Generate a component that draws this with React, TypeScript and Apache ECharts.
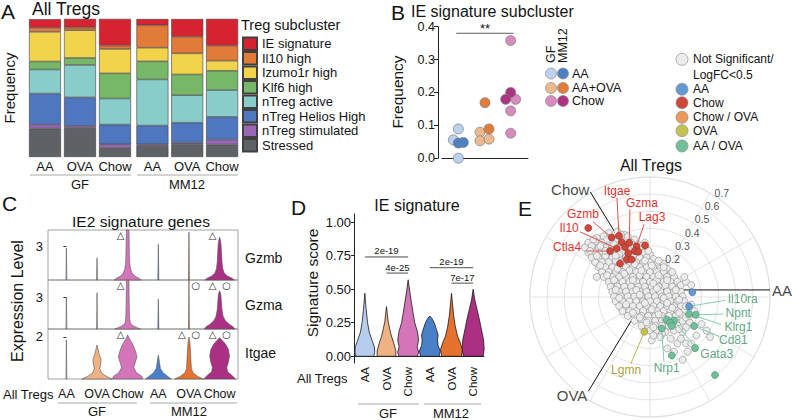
import React, { useEffect, useRef } from "react";
import * as echarts from "echarts";

const FONT = '"Liberation Sans", Arial, Helvetica, sans-serif';
const SYMBOL_FONT = '"DejaVu Sans", sans-serif';
const INK = "#141414";

/* ---------------- A: subcluster composition ---------------- */
const aConditions = ["AA", "OVA", "Chow"];
const aSubclusters = ["IE signature", "Il10 high", "Izumo1r high", "Klf6 high", "nTreg active", "nTreg Helios High", "nTreg stimulated", "Stressed"];
const aColors = ["#d7232f", "#e27a38", "#f2d34c", "#76b868", "#89cdcb", "#4f77bf", "#9a67b5", "#5e6165"];
// samples: GF AA, GF OVA, GF Chow, MM12 AA, MM12 OVA, MM12 Chow
const ieSignature = [0.063, 0.063, 0.194, 0.046, 0.128, 0.194];
const il10High = [0.029, 0.019, 0.024, 0.162, 0.121, 0.109];
const izumo1rHigh = [0.215, 0.201, 0.177, 0.099, 0.153, 0.073];
const klf6High = [0.058, 0.051, 0.182, 0.131, 0.15, 0.14];
const nTregActive = [0.174, 0.235, 0.189, 0.334, 0.199, 0.194];
const nTregHeliosHigh = [0.225, 0.206, 0.143, 0.136, 0.145, 0.165];
const nTregStimulated = [0.029, 0.015, 0.027, 0.012, 0.012, 0.036];
const stressed = [0.206, 0.211, 0.065, 0.08, 0.092, 0.09];
const aFractions = [ieSignature, il10High, izumo1rHigh, klf6High, nTregActive, nTregHeliosHigh, nTregStimulated, stressed];

/* ---------------- B: IE signature subcluster frequency ---------------- */
const bConditions = ["AA", "AA+OVA", "Chow"];
const bGfAA = [0.089, 0.056, 0.0];
const bMm12AA = [0.046, 0.048];
const bGfOVA = [0.079, 0.053, 0.058];
const bMm12OVA = [0.169, 0.089];
const bGfChow = [0.358, 0.179, 0.144, 0.076];
const bMm12Chow = [0.2, 0.179];
const bSignificance = [{ from: 0, to: 2, y: 0.38, label: "**" }];
// horizontal jitter of the dots (px)
const bJitter = { gfAA: [2, -3, 2], mmAA: [2, 7], gfOVA: [-5, -5, 4], mmOVA: [0, 4], gfChow: [-3, 2, -3, -3], mmChow: [-3, -8] };
const bLight = ["#bcd1ef", "#ecb98f", "#d98bc0"];
const bDark = ["#4f80c4", "#e27c3d", "#ad3383"];

/* ---------------- shared condition colours ---------------- */
const conditionColors = ["#b7cdee", "#efb282", "#d375b8", "#4a7fc9", "#e5722e", "#ab2f83"];

/* ---------------- C: IE2 signature genes (violin profiles: [expression, relative density]) ---------------- */
const cSamples = ["AA", "OVA", "Chow", "AA", "OVA", "Chow"];
const cGenes = ["Gzmb", "Gzma", "Itgae"];
const cAxisMax = [4.5, 4.6, 2.38];
const cAxisTick = [3, 3, 2];
const cGzmb = [
  [[0, 0.03], [1, 0.02], [2.9, 0]],
  [[0, 0.03], [1, 0.02], [2.0, 0]],
  [[0, 0.85], [0.15, 0.7], [0.35, 0.45], [0.6, 0.28], [1.0, 0.18], [1.5, 0.13], [2.2, 0.11], [3, 0.1], [3.8, 0.09], [4.5, 0.08]],
  [[0, 0.03], [1, 0.02], [3.2, 0]],
  [[0, 0.03], [1, 0.02], [4.3, 0]],
  [[0, 0.92], [0.15, 0.78], [0.35, 0.5], [0.6, 0.3], [1.0, 0.2], [1.6, 0.15], [2.4, 0.12], [3.2, 0.09], [3.6, 0.05], [3.85, 0]],
];
const cGzma = [
  [[0, 0.03], [1, 0.02], [3.0, 0]],
  [[0, 0.03], [1, 0.02], [3.4, 0]],
  [[0, 0.8], [0.15, 0.55], [0.35, 0.28], [0.6, 0.16], [1.0, 0.12], [2, 0.1], [3, 0.09], [4.6, 0.08]],
  [[0, 0.03], [1, 0.02], [2.8, 0]],
  [[0, 0.03], [1, 0.02], [4.6, 0]],
  [[0, 0.95], [0.2, 0.85], [0.45, 0.6], [0.8, 0.35], [1.2, 0.22], [1.8, 0.15], [2.6, 0.11], [3.3, 0.07], [3.6, 0]],
];
const cItgae = [
  [[0, 0.03], [0.6, 0.02], [1.86, 0]],
  [[0, 0.95], [0.12, 0.6], [0.28, 0.28], [0.5, 0.17], [0.75, 0.24], [0.95, 0.25], [1.15, 0.15], [1.4, 0.07], [1.62, 0]],
  [[0, 0.95], [0.12, 0.9], [0.3, 0.55], [0.55, 0.38], [0.8, 0.48], [1.05, 0.58], [1.3, 0.5], [1.55, 0.38], [1.8, 0.2], [2.0, 0.05], [2.1, 0]],
  [[0, 0.8], [0.12, 0.6], [0.3, 0.3], [0.5, 0.13], [0.8, 0.07], [1.14, 0]],
  [[0, 0.9], [0.12, 0.55], [0.3, 0.25], [0.5, 0.15], [0.9, 0.12], [1.3, 0.1], [1.7, 0.06], [2.0, 0]],
  [[0, 1.0], [0.15, 0.8], [0.35, 0.5], [0.55, 0.45], [0.8, 0.55], [1.1, 0.62], [1.4, 0.55], [1.65, 0.38], [1.85, 0.15], [1.97, 0]],
];
const cProfiles = [cGzmb, cGzma, cItgae];
// [sample index, triangle, circle]
const cMarkers = [
  [[2, 1, 0], [5, 1, 0]],
  [[2, 1, 0], [4, 0, 1], [5, 1, 1]],
  [[2, 1, 0], [4, 1, 1], [5, 1, 1]],
];

/* ---------------- D: IE signature score ---------------- */
const dSamples = ["GF AA", "GF OVA", "GF Chow", "MM12 AA", "MM12 OVA", "MM12 Chow"];
const dTicks = [0, 0.25, 0.5, 0.75, 1];
const dProfiles = [
  [[0, 0.82], [0.03, 0.9], [0.07, 0.87], [0.12, 0.65], [0.18, 0.4], [0.25, 0.25], [0.35, 0.12], [0.42, 0.05], [0.47, 0]],
  [[0, 0.85], [0.04, 0.85], [0.1, 0.65], [0.15, 0.45], [0.2, 0.3], [0.26, 0.15], [0.32, 0.07], [0.37, 0]],
  [[0, 0.85], [0.03, 0.95], [0.07, 0.82], [0.12, 0.95], [0.18, 0.85], [0.25, 0.6], [0.32, 0.45], [0.4, 0.3], [0.48, 0.15], [0.57, 0]],
  [[0, 0.85], [0.04, 0.95], [0.08, 0.75], [0.12, 0.7], [0.16, 0.75], [0.2, 0.6], [0.25, 0.4], [0.28, 0.2], [0.3, 0]],
  [[0, 0.9], [0.05, 1.0], [0.1, 0.8], [0.15, 0.55], [0.22, 0.35], [0.3, 0.2], [0.4, 0.08], [0.47, 0]],
  [[0, 0.9], [0.05, 1.0], [0.12, 0.95], [0.2, 0.75], [0.28, 0.55], [0.35, 0.35], [0.42, 0.15], [0.5, 0]],
];
const dBrackets = [
  { from: 0, to: 2, y: 0.74, label: "2e-19" },
  { from: 1, to: 2, y: 0.62, label: "4e-25" },
  { from: 3, to: 5, y: 0.66, label: "2e-19" },
  { from: 4, to: 5, y: 0.545, label: "7e-17" },
];

/* ---------------- E: triwise plot (coordinates in hundredths of the radial unit) ---------------- */
const eRadialTicks = [0.2, 0.3, 0.4, 0.5, 0.6, 0.7];
const eAxes = [
  { name: "AA", angle: 0, length: 0.7 },
  { name: "Chow", angle: 120, length: 0.695 },
  { name: "OVA", angle: 240, length: 0.72 },
];
const eCloudUpper = [
  [-24, 35], [-19, 36], [-15, 34],
  [-31, 32], [-27, 33], [-22, 32], [-18, 32], [-13, 33], [-9, 31],
  [-36, 29], [-32, 30], [-28, 29], [-24, 29], [-20, 30], [-16, 29], [-11, 29], [-7, 28], [-3, 29],
  [-38, 26], [-34, 27], [-30, 26], [-26, 26], [-22, 27], [-18, 26], [-14, 26], [-10, 26], [-6, 26], [-2, 25],
  [-36, 23], [-32, 23], [-28, 24], [-24, 23], [-20, 23], [-16, 23], [-12, 24], [-8, 23], [-4, 23], [0, 22],
  [-34, 20], [-30, 20], [-26, 21], [-22, 20], [-18, 20], [-14, 20], [-10, 21], [-6, 20], [-2, 20], [2, 19],
  [-32, 17], [-28, 17], [-24, 17], [-20, 18], [-16, 17], [-12, 17], [-8, 17], [-4, 17], [0, 17], [4, 16], [8, 16],
];
const eCloudMiddle = [
  [-30, 14], [-26, 14], [-22, 14], [-18, 15], [-14, 14], [-10, 14], [-6, 14], [-2, 14], [2, 14], [6, 13], [10, 13],
  [-28, 11], [-24, 11], [-20, 11], [-16, 11], [-12, 12], [-8, 11], [-4, 11], [0, 11], [4, 11], [8, 11], [12, 10],
  [-27, 8], [-22, 8], [-18, 8], [-14, 8], [-10, 8], [-6, 9], [-2, 8], [2, 8], [6, 8], [10, 8], [14, 8],
  [-24, 5], [-20, 5], [-16, 5], [-12, 5], [-8, 5], [-4, 5], [0, 5], [4, 6], [8, 5], [12, 5], [16, 5],
  [-23, 2], [-19, 2], [-15, 2], [-11, 2], [-7, 2], [-3, 2], [1, 2], [5, 2], [9, 3], [13, 2], [17, 2],
  [-22, -1], [-18, -1], [-14, -1], [-10, -1], [-6, -1], [-2, -1], [2, -1], [6, -1], [10, -1], [14, -1], [18, -1],
  [-21, -4], [-17, -4], [-13, -4], [-9, -4], [-5, -4], [-1, -4], [3, -4], [7, -4], [11, -4], [15, -4], [19, -4],
];
const eCloudLower = [
  [-20, -7], [-16, -7], [-12, -7], [-8, -7], [-4, -7], [0, -7], [4, -7], [8, -7], [12, -7], [16, -7], [20, -7],
  [-18, -10], [-14, -10], [-10, -10], [-6, -10], [-2, -10], [2, -10], [6, -10], [10, -10], [14, -10], [18, -10],
  [-16, -13], [-12, -13], [-8, -13], [-4, -13], [0, -13], [4, -13], [8, -13], [12, -13], [16, -13], [20, -13],
  [-13, -16], [-9, -16], [-5, -16], [-1, -16], [3, -16], [7, -16], [11, -16], [15, -16], [19, -16],
  [-9, -19], [-5, -19], [-1, -19], [3, -19], [7, -19], [11, -19], [15, -19], [19, -19], [23, -20],
  [-5, -22], [-1, -22], [3, -22], [7, -22], [11, -22], [16, -22], [21, -23],
  [0, -25], [4, -25], [9, -26], [14, -25], [19, -26],
];
const eCloudFill = [
  [-33, 31], [-25, 31], [-17, 34], [-29, 27], [-21, 28], [-13, 27], [-5, 27], [-35, 24], [-26, 24], [-18, 22],
  [-9, 24], [-1, 24], [-31, 21], [-20, 21], [-12, 19], [-3, 18], [5, 18], [-29, 15], [-19, 13], [-9, 16],
  [1, 15], [8, 14], [-25, 9], [-15, 10], [-5, 12], [5, 9], [13, 11], [-21, 6], [-10, 6], [2, 4],
  [10, 6], [18, 3], [-20, 0], [-8, 0], [4, 1], [15, 0], [-18, -5], [-6, -3], [8, -5], [17, -6],
  [-14, -9], [-3, -8], [10, -8], [21, -10], [-10, -14], [1, -12], [13, -11], [-6, -17], [5, -15], [17, -14],
  [-2, -20], [9, -18], [21, -17], [2, -23], [13, -21], [7, -27], [17, -24], [23, -16],
];
const eCloudOutliers = [
  [-31, 8], [21, 5], [20, 8], [24, 3], [30, -21], [33, -25], [35, -29], [16, -33], [21, -33], [24, -33],
  [22, -38], [14, -38], [19, -43], [10, -36], [18, -30], [1, -31], [2, -28], [27, -28], [6, -29], [12, -30], [24, -9], [26, -13],
];
const eChow = [
  [-22.4, 32.3], [-18.1, 33.3], [-16.5, 29.3], [-19.4, 25.5], [-23.3, 23.9], [-14.6, 26.4], [-7.8, 26.8], [-2.9, 27.4],
  [-8.8, 23.9], [-6.8, 23.5], [-12.7, 22.6], [-13.6, 18.7], [-17.5, 16.3], [-10.7, 18.7], [-12.1, 29.0], [-36.0, 38.1],
];
const eAA = [[24.7, -1.4], [22.8, -10.1]];
const eAAOVA = [
  [22.8, -14.8], [26.7, -15.3], [9.7, -18.3], [14.0, -18.8], [11.7, -20.2], [12.7, -22.2],
  [6.8, -23.7], [25.7, -22.2], [26.3, -35.8], [12.7, -40.3], [37.9, -52.3],
];
const eOVA = [[-3.3, -25.7]];
const eGeneLabels = [
  { gene: "Gzmb", set: "Chow", index: 0 },
  { gene: "Itgae", set: "Chow", index: 1 },
  { gene: "Il10", set: "Chow", index: 3 },
  { gene: "Ctla4", set: "Chow", index: 4 },
  { gene: "Lag3", set: "Chow", index: 6 },
  { gene: "Gzma", set: "Chow", index: 14 },
  { gene: "Il10ra", set: "AA", index: 1 },
  { gene: "Klrg1", set: "AA / OVA", index: 0 },
  { gene: "Npnt", set: "AA / OVA", index: 1 },
  { gene: "Gata3", set: "AA / OVA", index: 3 },
  { gene: "Nrp1", set: "AA / OVA", index: 6 },
  { gene: "Cd81", set: "AA / OVA", index: 7 },
  { gene: "Lgmn", set: "OVA", index: 0 },
];
// label layout (px): [text dx, text dy, leader start dx, leader start dy]
const eLabelLayout: any = {
  Gzmb: [-28.6, -23.6, -18.6, -15.6],
  Itgae: [-2, -45, -2, -38],
  Il10: [-47.7, -20.3, -36.7, -16.6],
  Ctla4: [-43, -4, -23.3, 0],
  Lag3: [15.4, -29, 7.4, -22],
  Gzma: [12.7, -39.3, 0.7, -33.3],
  Il10ra: [53.7, -7.5, 36, -6],
  Klrg1: [49.3, 12.8, 32, 10.5],
  Npnt: [42.5, -1.5, 27.5, -0.8],
  Gata3: [42.7, 33.5, 24.3, 30.8],
  Nrp1: [5, 39.7, 2.3, 33.4],
  Cd81: [39.3, 14.2, 25.3, 10.5],
  Lgmn: [-18.3, 38.3, -13.6, 32.3],
};
const eSets: any = { Chow: eChow, AA: eAA, "AA / OVA": eAAOVA, OVA: eOVA };
const eSetStyle: any = {
  "Not Significant/": { fill: "#ececec", stroke: "#8c8c8c" },
  AA: { fill: "#6399d2", stroke: "#3f6a99", text: "#5fa886", line: "#86cdae" },
  Chow: { fill: "#cf4739", stroke: "#8e3128", text: "#e3342f", line: "#e4514b" },
  "Chow / OVA": { fill: "#eb9a5e", stroke: "#a86a3c" },
  OVA: { fill: "#c4c250", stroke: "#8a8a30", text: "#a9a33a", line: "#b8b449" },
  "AA / OVA": { fill: "#6fbf98", stroke: "#4d8a6e", text: "#5fa886", line: "#86cdae" },
};
const eLegend = ["Not Significant/", "AA", "Chow", "Chow / OVA", "OVA", "AA / OVA"];

/* ---------------- helpers ---------------- */
const txt = (x: number, y: number, text: string, size: number, o: any = {}) => ({
  type: "text", x, y, rotation: o.rot || 0, z: 100, silent: true,
  style: { text, fontSize: size, fontFamily: o.family || FONT, fill: o.fill || INK, align: o.align || "left", verticalAlign: "middle" },
});
const hline = (x1: number, x2: number, y: number) => ({
  type: "line", z: 100, silent: true, shape: { x1, y1: y, x2, y2: y }, style: { stroke: "#a8a8a8", lineWidth: 1 },
});
const dot = (cx: number, cy: number, fill: string, r = 5.5) => ({
  type: "circle", z: 100, silent: true, shape: { cx, cy, r }, style: { fill, stroke: "#8c8c8c", lineWidth: 0.7 },
});
const hundredths = (p: number[]) => [p[0] / 100, p[1] / 100];

function violinRender(profiles: any[], maxHalf: number, stroke: string, lw: number) {
  return (params: any, api: any) => {
    const cat = api.value(0);
    const prof = profiles[cat];
    const right: number[][] = [];
    const left: number[][] = [];
    prof.forEach((pt: number[]) => {
      const c = api.coord([cat, pt[0]]);
      right.push([c[0] + pt[1] * maxHalf, c[1]]);
      left.push([c[0] - pt[1] * maxHalf, c[1]]);
    });
    return {
      type: "polygon",
      shape: { points: right.concat(left.reverse()) },
      style: { fill: conditionColors[cat], stroke, lineWidth: lw },
    };
  };
}

function buildOption() {
  const cGrid = { left: 48, width: 190, show: true, borderColor: "#8c8c8c", borderWidth: 0.8, backgroundColor: "transparent" };
  const grid = [
    { left: 27.5, top: 19, width: 105, height: 138 },
    { left: 135, top: 19, width: 104.5, height: 138 },
    { left: 442, top: 26.7, width: 86, height: 131.5 },
    { ...cGrid, top: 230, height: 50 },
    { ...cGrid, top: 280, height: 49 },
    { ...cGrid, top: 329, height: 50 },
    { left: 354, top: 214, width: 130, height: 149 },
    { left: 512.86, top: 159.86, width: 274.29, height: 274.29 },
  ];
  const aX = (g: number) => ({
    gridIndex: g, type: "category", data: aConditions,
    axisLine: { show: false }, axisTick: { show: false },
    axisLabel: { interval: 0, fontSize: 13, color: INK, margin: 3, fontFamily: FONT },
  });
  const xAxis: any[] = [
    aX(0), aX(1),
    { gridIndex: 2, type: "category", data: bConditions, axisLine: { lineStyle: { color: "#222", width: 1 } }, axisTick: { show: false }, axisLabel: { show: false } },
    { gridIndex: 3, type: "value", min: -0.6, max: 5.6, show: false },
    { gridIndex: 4, type: "value", min: -0.6, max: 5.6, show: false },
    {
      gridIndex: 5, type: "value", min: -0.6, max: 5.6,
      axisLine: { show: false }, axisTick: { show: false }, splitLine: { show: false },
      axisLabel: { customValues: [0, 1, 2, 3, 4, 5], formatter: (v: number) => cSamples[Math.round(v)], fontSize: 12.5, color: INK, margin: 8, fontFamily: FONT },
    },
    {
      gridIndex: 6, type: "category", data: dSamples,
      axisLine: { lineStyle: { color: "#222", width: 1 } },
      axisTick: { alignWithLabel: true, length: 3, lineStyle: { color: "#222" } },
      axisLabel: { interval: 0, rotate: 90, fontSize: 11.5, color: INK, margin: 4, fontFamily: FONT, formatter: (v: string) => v.split(" ")[1] },
    },
    { gridIndex: 7, type: "value", min: -0.8, max: 0.8, show: false },
  ];
  const cY = (r: number) => ({
    gridIndex: 3 + r, type: "value", min: 0, max: cAxisMax[r],
    axisLine: { show: false },
    axisTick: { show: true, customValues: [cAxisTick[r]], length: 3, lineStyle: { color: "#333" } },
    axisLabel: { customValues: [cAxisTick[r]], fontSize: 13, color: INK, margin: 5, fontFamily: FONT },
    splitLine: { show: false },
  });
  const yAxis: any[] = [
    { gridIndex: 0, type: "value", min: 0, max: 1, show: false },
    { gridIndex: 1, type: "value", min: 0, max: 1, show: false },
    {
      gridIndex: 2, type: "value", min: 0, max: 0.4, interval: 0.1, offset: 4,
      axisLine: { show: true, lineStyle: { color: "#222" } },
      axisTick: { show: true, length: 4, lineStyle: { color: "#222" } },
      axisLabel: { fontSize: 12.5, color: INK, margin: 3, fontFamily: FONT, formatter: (v: number) => v.toFixed(1) },
      splitLine: { show: false },
    },
    cY(0), cY(1), cY(2),
    {
      gridIndex: 6, type: "value", min: -0.05, max: 1.06,
      axisLine: { show: true, lineStyle: { color: "#222" } },
      axisTick: { show: true, customValues: dTicks, length: 3, lineStyle: { color: "#222" } },
      axisLabel: { customValues: dTicks, fontSize: 13, color: INK, margin: 3, fontFamily: FONT, formatter: (v: number) => v.toFixed(2) },
      splitLine: { show: false },
    },
    { gridIndex: 7, type: "value", min: -0.8, max: 0.8, show: false },
  ];

  const series: any[] = [];

  // A: stacked bars (bottom-up: Stressed first)
  [0, 1].forEach((g) => {
    for (let k = aSubclusters.length - 1; k >= 0; k--) {
      series.push({
        type: "bar", name: aSubclusters[k], xAxisIndex: g, yAxisIndex: g, stack: "A" + g, barWidth: 32,
        data: aFractions[k].slice(g * 3, g * 3 + 3),
        itemStyle: { color: aColors[k], borderColor: "#404040", borderWidth: 0.6 },
        silent: true,
      });
    }
  });

  // B: dots
  const bGroups = [
    { cond: 0, vals: bGfAA, jit: bJitter.gfAA, color: bLight[0] },
    { cond: 0, vals: bMm12AA, jit: bJitter.mmAA, color: bDark[0] },
    { cond: 1, vals: bGfOVA, jit: bJitter.gfOVA, color: bLight[1] },
    { cond: 1, vals: bMm12OVA, jit: bJitter.mmOVA, color: bDark[1] },
    { cond: 2, vals: bGfChow, jit: bJitter.gfChow, color: bLight[2] },
    { cond: 2, vals: bMm12Chow, jit: bJitter.mmChow, color: bDark[2] },
  ];
  bGroups.forEach((b, i) => {
    series.push({
      type: "scatter", name: "B" + i, xAxisIndex: 2, yAxisIndex: 2, symbolSize: 10, silent: true,
      itemStyle: { color: b.color, borderColor: "#7a7a7a", borderWidth: 0.7, opacity: 1 },
      data: b.vals.map((v, j) => ({ value: [b.cond, v], symbolOffset: [b.jit[j], 0] })),
    });
  });
  series.push({
    type: "custom", xAxisIndex: 2, yAxisIndex: 2, silent: true,
    data: bSignificance.map((b) => [b.from, b.y]),
    encode: { x: 0, y: 1 },
    renderItem: (params: any, api: any) => {
      const b = bSignificance[params.dataIndex];
      const p1 = api.coord([b.from, b.y]);
      const p2 = api.coord([b.to, b.y]);
      return {
        type: "group", children: [
          { type: "line", shape: { x1: p1[0], y1: p1[1], x2: p2[0], y2: p2[1] }, style: { stroke: "#333", lineWidth: 0.8 } },
          { type: "text", x: (p1[0] + p2[0]) / 2, y: p1[1] - 5, style: { text: b.label, fontSize: 13, fontFamily: FONT, fill: INK, align: "center", verticalAlign: "middle" } },
        ],
      };
    },
  });

  // C: violins + markers
  [0, 1, 2].forEach((r) => {
    series.push({
      type: "custom", xAxisIndex: 3 + r, yAxisIndex: 3 + r, silent: true,
      data: cSamples.map((_, i) => [i, 0]), encode: { x: 0, y: 1 },
      renderItem: violinRender(cProfiles[r], 16, "#555", 0.6),
    });
    series.push({
      type: "custom", xAxisIndex: 3 + r, yAxisIndex: 3 + r, silent: true,
      data: cMarkers[r].map((m) => [m[0], cAxisMax[r]]), encode: { x: 0, y: 1 },
      renderItem: (params: any, api: any) => {
        const m = cMarkers[r][params.dataIndex];
        const p = api.coord([m[0], cAxisMax[r]]);
        const children: any[] = [];
        const st = (t: string) => ({ text: t, fontSize: 10, fontFamily: SYMBOL_FONT, fill: "#333", align: "center", verticalAlign: "middle" });
        if (m[1]) children.push({ type: "text", x: p[0] - 7, y: p[1] + 5.5, style: st("△") });
        if (m[2]) children.push({ type: "text", x: p[0] + 7, y: p[1] + 5.5, style: st("○") });
        return { type: "group", children };
      },
    });
  });

  // D: violins + brackets
  series.push({
    type: "custom", xAxisIndex: 6, yAxisIndex: 6, silent: true,
    data: dSamples.map((_, i) => [i, 0]), encode: { x: 0, y: 1 },
    renderItem: violinRender(dProfiles, 11, "#1a1a1a", 0.8),
  });
  series.push({
    type: "custom", xAxisIndex: 6, yAxisIndex: 6, silent: true,
    data: dBrackets.map((b) => [b.from, b.y]), encode: { x: 0, y: 1 },
    renderItem: (params: any, api: any) => {
      const b = dBrackets[params.dataIndex];
      const p1 = api.coord([b.from, b.y]);
      const p2 = api.coord([b.to, b.y]);
      return {
        type: "group", children: [
          { type: "line", shape: { x1: p1[0], y1: p1[1], x2: p2[0], y2: p2[1] }, style: { stroke: "#222", lineWidth: 0.8 } },
          { type: "text", x: (p1[0] + p2[0]) / 2, y: p1[1] - 6, style: { text: b.label, fontSize: 9.5, fontFamily: FONT, fill: INK, align: "center", verticalAlign: "middle" } },
        ],
      };
    },
  });

  // E: axis lines
  const rad = (a: number) => (a * Math.PI) / 180;
  eAxes.forEach((ax) => {
    series.push({
      type: "line", xAxisIndex: 7, yAxisIndex: 7, symbol: "none", silent: true, z: 1,
      lineStyle: { color: "#111", width: 1 },
      data: [[0, 0], [ax.length * Math.cos(rad(ax.angle)), ax.length * Math.sin(rad(ax.angle))]],
    });
  });
  const axisLabelPos: any = {
    AA: { position: "right", distance: 2, offset: [0, 1] },
    Chow: { position: "left", distance: 1, offset: [0, -3] },
    OVA: { position: "left", distance: 1, offset: [0, 4] },
  };
  series.push({
    type: "scatter", xAxisIndex: 7, yAxisIndex: 7, symbolSize: 0, silent: true, z: 6,
    data: eAxes.map((ax) => ({
      name: ax.name,
      value: [ax.length * Math.cos(rad(ax.angle)), ax.length * Math.sin(rad(ax.angle))],
      label: { show: true, formatter: "{b}", fontSize: 15, color: INK, fontFamily: FONT, ...axisLabelPos[ax.name] },
    })),
  });
  // radial tick labels
  series.push({
    type: "scatter", xAxisIndex: 7, yAxisIndex: 7, symbolSize: 0, silent: true, z: 6,
    data: eRadialTicks.map((t) => ({
      name: t.toFixed(1),
      value: [(t + 0.03) * Math.cos(rad(55)), (t + 0.03) * Math.sin(rad(55))],
    })),
    label: { show: true, position: "inside", formatter: "{b}", fontSize: 10.5, color: "#222", fontFamily: FONT },
  });
  // gray cloud
  series.push({
    type: "scatter", xAxisIndex: 7, yAxisIndex: 7, symbolSize: 7, silent: true, z: 3,
    data: [...eCloudUpper, ...eCloudMiddle, ...eCloudLower, ...eCloudFill, ...eCloudOutliers].map(hundredths),
    itemStyle: { color: eSetStyle["Not Significant/"].fill, borderColor: "#8a8a8a", borderWidth: 0.6, opacity: 1 },
  });
  // label leader lines and gene names
  series.push({
    type: "custom", xAxisIndex: 7, yAxisIndex: 7, silent: true, z: 4,
    data: eGeneLabels.map((l) => hundredths(eSets[l.set][l.index])), encode: { x: 0, y: 1 },
    renderItem: (params: any, api: any) => {
      const l = eGeneLabels[params.dataIndex];
      const st = eSetStyle[l.set];
      const off = eLabelLayout[l.gene];
      const p = api.coord([api.value(0), api.value(1)]);
      return {
        type: "group", children: [
          { type: "line", shape: { x1: p[0] + off[2], y1: p[1] + off[3], x2: p[0], y2: p[1] }, style: { stroke: st.line, lineWidth: 1 } },
          { type: "text", x: p[0] + off[0], y: p[1] + off[1], style: { text: l.gene, fontSize: 12, fontFamily: FONT, fill: st.text, align: "center", verticalAlign: "middle" } },
        ],
      };
    },
  });
  // significant genes
  Object.keys(eSets).forEach((k) => {
    series.push({
      type: "scatter", name: "E " + k, xAxisIndex: 7, yAxisIndex: 7, symbolSize: 7, silent: true, z: 5,
      data: eSets[k].map(hundredths),
      itemStyle: { color: eSetStyle[k].fill, borderColor: eSetStyle[k].stroke, borderWidth: 0.6, opacity: 1 },
    });
  });

  // graphic: titles, letters, group labels, legends
  const g: any[] = [
    txt(1, 11, "A", 21), txt(391, 12, "B", 21), txt(2, 203, "C", 21), txt(291, 207, "D", 21), txt(518, 208, "E", 21),
    txt(32, 9, "All Tregs", 17.5),
    txt(241, 25, "Treg subcluster", 14.5),
    txt(411, 11, "IE signature subcluster", 16),
    txt(141, 221, "IE2 signature genes", 15.5, { align: "center" }),
    txt(417, 205, "IE signature", 16, { align: "center" }),
    txt(651, 165, "All Tregs", 16, { align: "center" }),
    // axis titles
    txt(9, 88, "Frequency", 15, { align: "center", rot: Math.PI / 2 }),
    txt(397, 92, "Frequency", 15.5, { align: "center", rot: Math.PI / 2 }),
    txt(17, 301, "Expression Level", 16, { align: "center", rot: Math.PI / 2 }),
    txt(312, 283, "Signature score", 15.5, { align: "center", rot: Math.PI / 2 }),
    // A groups
    hline(30, 131, 175), hline(137, 238, 175),
    txt(80, 184, "GF", 13, { align: "center" }), txt(187, 184, "MM12", 13, { align: "center" }),
    // C groups
    txt(3, 394, "All Tregs", 13),
    hline(58, 137, 403), hline(150, 237, 403),
    txt(97, 411, "GF", 13, { align: "center" }), txt(189, 411, "MM12", 13, { align: "center" }),
    // D groups
    txt(297, 378, "All Tregs", 13),
    hline(358, 419, 404), hline(424, 481, 404),
    txt(388, 413, "GF", 13, { align: "center" }), txt(451, 413, "MM12", 13, { align: "center" }),
  ];
  cGenes.forEach((gn, i) => g.push(txt(245, [258, 305, 353][i], gn, 14)));
  // B legend
  g.push(txt(551, 63, "GF", 12.5, { rot: Math.PI / 2 }));
  g.push(txt(563, 63, "MM12", 12.5, { rot: Math.PI / 2 }));
  const bLegendRows = [73.5, 88, 101];
  bConditions.forEach((c, i) => {
    g.push(dot(551, bLegendRows[i], bLight[i]));
    g.push(dot(563, bLegendRows[i], bDark[i]));
    g.push(txt(572, bLegendRows[i], c, 12.5));
  });
  // E legend
  const eLegendRows = [59.3, 89.3, 102.7, 117.3, 130.7, 146];
  eLegend.forEach((k, i) => {
    g.push(dot(682, eLegendRows[i], eSetStyle[k].fill, 6));
    g.push(txt(693, eLegendRows[i], k, 12));
  });
  g.push(txt(693, 75, "LogFC<0.5", 12));

  return {
    animation: false,
    backgroundColor: "#ffffff",
    textStyle: { fontFamily: FONT },
    grid,
    xAxis,
    yAxis,
    polar: { center: [650, 297], radius: 120 },
    angleAxis: {
      type: "value", min: 0, max: 360, interval: 30, startAngle: 0, clockwise: false,
      axisLine: { show: true, lineStyle: { color: "#dcdcdc", width: 0.8 } },
      axisTick: { show: false }, axisLabel: { show: false },
      splitLine: { show: true, lineStyle: { color: "#dcdcdc", width: 0.8 } },
    },
    radiusAxis: {
      type: "value", min: 0, max: 0.7, interval: 0.1,
      axisLine: { show: false }, axisTick: { show: false }, axisLabel: { show: false },
      splitLine: { show: true, lineStyle: { color: "#dcdcdc", width: 0.8 } },
    },
    legend: {
      left: 242, top: 36.5, orient: "vertical", padding: 0, itemWidth: 14, itemHeight: 12.5, itemGap: 0,
      selectedMode: false, icon: "rect", data: aSubclusters,
      textStyle: { fontSize: 13, color: INK, fontFamily: FONT, lineHeight: 13 },
    },
    graphic: { elements: g },
    series,
  };
}

export default function App() {
  const ref = useRef<HTMLDivElement>(null);
  useEffect(() => {
    if (!ref.current) return;
    const chart = echarts.init(ref.current, undefined, { renderer: "svg" });
    chart.setOption(buildOption() as any);
    return () => chart.dispose();
  }, []);
  return <div ref={ref} style={{ position: "absolute", left: 0, top: 0, width: 792, height: 420, background: "#fff" }} />;
}
